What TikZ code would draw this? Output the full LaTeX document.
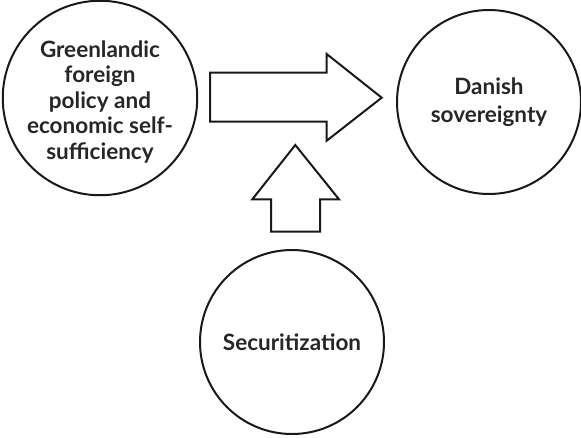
\documentclass[tikz,border=0pt]{standalone}
\usepackage{fontspec}
\setmainfont{Lato}[BoldFont={Lato Bold}]
\begin{document}
\begin{tikzpicture}[x=1pt,y=-1pt,
  circ/.style={draw=black!90,line width=2pt,circle,minimum size=184pt,inner sep=0pt,align=center,
    font=\fontsize{22.5}{25.5}\selectfont\bfseries,text=black!85},
  blockarrow/.style={draw=black!90,line width=2pt,line join=miter,fill=white}]
\useasboundingbox (0,0) rectangle (581,437);
\node[circ] (green) at (100,98) {\rule{0pt}{24pt}Greenlandic\\foreign\\policy and\\economic self-\\sufficiency};
\node[circ] (danish) at (489,102) {Danish\\[2pt]sovereignty};
\node[circ] (secur) at (292,342) {Securitization};
\draw[blockarrow] (210,72.7) -- (326.7,72.7) -- (326.7,54) -- (381.7,97.7) -- (326.7,140.7) -- (326.7,121.7) -- (210,121.7) -- cycle;
\draw[blockarrow] (271,231.7) -- (271,199.3) -- (252.3,199.3) -- (295.3,145) -- (339,199.3) -- (320,199.3) -- (320,231.7) -- cycle;
\end{tikzpicture}
\end{document}
